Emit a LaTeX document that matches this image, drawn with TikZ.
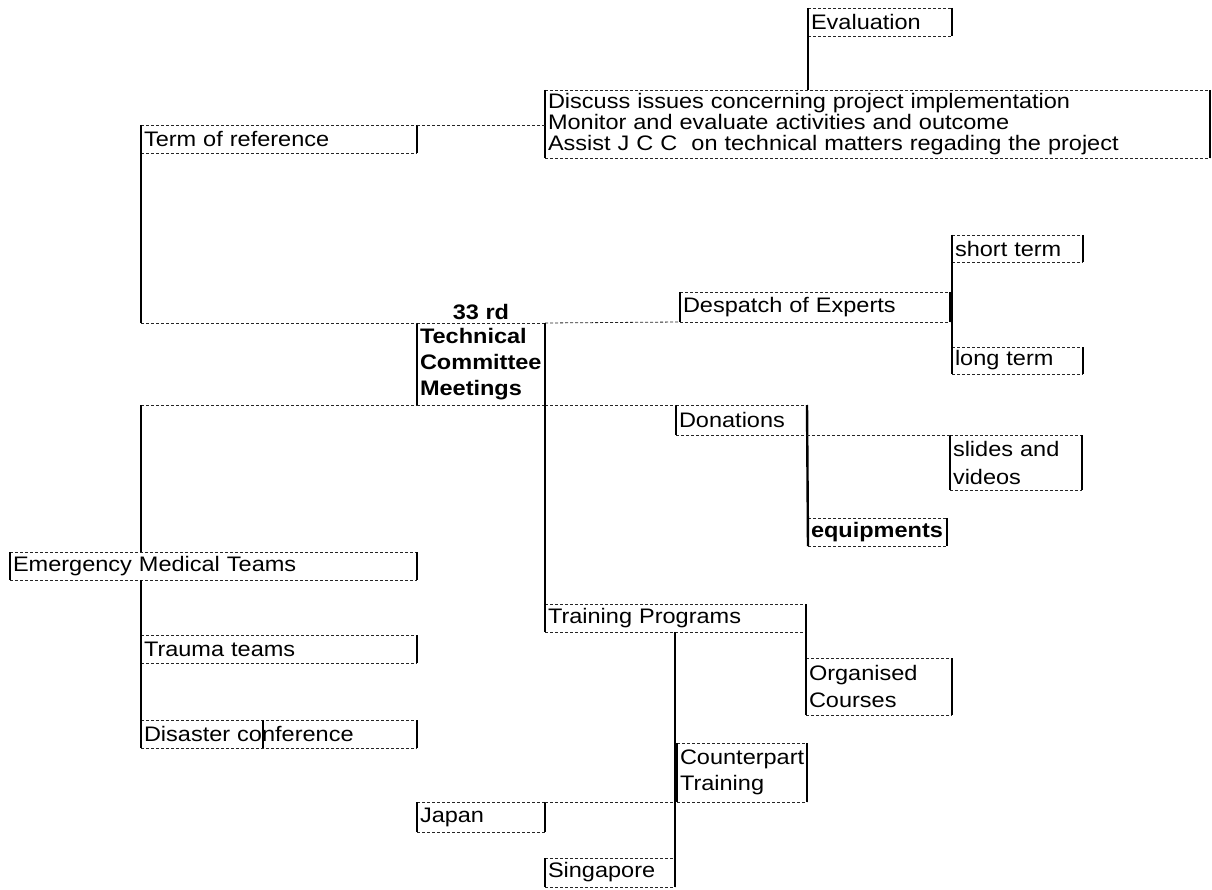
\documentclass[tikz,border=0pt]{standalone}
\usepackage{fontspec}
\setmainfont[FakeStretch=1.12]{Liberation Sans}
\usetikzlibrary{positioning}

\tikzset{
  cell/.style={anchor=north west, inner xsep=3pt, inner ysep=0pt, outer sep=0pt,
    align=left, font=\fontsize{21}{21}\selectfont},
  boldcell/.style={cell, font=\fontsize{21}{26}\selectfont\bfseries},
  edgeline/.style={line width=0.8pt, black!85, dash pattern=on 3pt off 2pt},
  sideline/.style={line width=1.3pt, black},
  link/.style={line width=2.4pt, black},
  dashlink/.style={edgeline}
}

\begin{document}
\begin{tikzpicture}[x=1pt, y=-1pt]
  \useasboundingbox (0,0) rectangle (1212,890);

  % top branch
  \node[cell, text width=138pt, minimum height=28pt] (eval) at (808,8) {Evaluation};
  \node[cell, text width=659pt, minimum height=68pt] (tasks) at (545,90)
    {Discuss issues concerning project implementation\\
     Monitor and evaluate activities and outcome\\
     Assist J C C\ \ on technical matters regading the project};
  \node[cell, text width=270pt, minimum height=28pt] (terms) at (141,125) {Term of reference};

  % centre
  \node[boldcell, text width=122pt, minimum height=82pt] (tcm) at (417,323)
    {Technical\\Committee\\Meetings};
  \node[font=\fontsize{21}{21}\selectfont\bfseries, inner sep=2pt, above=1pt of tcm] (rd) {33 rd};

  % experts
  \node[cell, text width=264pt, minimum height=30pt] (experts) at (680,292) {Despatch of Experts};
  \node[cell, text width=125pt, minimum height=27pt] (short) at (952,235) {short term};
  \node[cell, text width=125pt, minimum height=27pt] (long) at (952,347) {long term};

  % donations
  \node[cell, text width=125pt, minimum height=30pt] (donations) at (676,405) {Donations};
  \node[cell, text width=126pt, minimum height=55pt, font=\fontsize{21}{28}\selectfont] (slides) at (950,435) {slides and\\videos};
  \node[boldcell, text width=133pt, minimum height=28pt] (equip) at (808,518) {equipments};

  % emergency teams
  \node[cell, text width=401pt, minimum height=28pt] (emt) at (10,552) {Emergency Medical Teams};
  \node[cell, text width=270pt, minimum height=28pt] (trauma) at (141,635) {Trauma teams};
  \node[cell, text width=270pt, minimum height=28pt] (disaster) at (141,720) {Disaster conference};

  % training
  \node[cell, text width=255pt, minimum height=28pt] (training) at (545,604) {Training Programs};
  \node[cell, text width=140pt, minimum height=57pt, font=\fontsize{21}{27}\selectfont] (courses) at (806,658) {Organised\\Courses};
  \node[cell, text width=124pt, minimum height=59pt, font=\fontsize{21}{26}\selectfont] (counterpart) at (677,743) {Counterpart\\Training};
  \node[cell, text width=122pt, minimum height=30pt] (japan) at (417,802) {Japan};
  \node[cell, text width=124pt, minimum height=29pt] (singapore) at (545,858) {Singapore};

  % cell borders
  \foreach \n in {eval,tasks,terms,tcm,experts,short,long,donations,slides,equip,
                  emt,trauma,disaster,training,courses,counterpart,japan,singapore}{
    \draw[edgeline] (\n.north west) -- (\n.north east) (\n.south west) -- (\n.south east);
    \draw[sideline] (\n.north west) -- (\n.south west) (\n.north east) -- (\n.south east);
  }
  \draw[sideline] ([xshift=122pt]disaster.north west) -- ([xshift=122pt]disaster.south west);

  % connectors
  \draw[link] (eval.south west) -- (eval.south west |- tasks.north);
  \draw[dashlink] (terms.north east) -- (terms.north east -| tasks.west);
  \draw[link] (terms.south west) -- (terms.south west |- tcm.north);
  \draw[dashlink] (terms.west |- tcm.north) -- (tcm.north west);
  \draw[dashlink] (tcm.north east) -- (experts.south west);
  \draw[link] (short.north west) -- (long.south west);
  \draw[dashlink] (terms.west |- tcm.south) -- (tcm.south west);
  \draw[link] (terms.west |- tcm.south) -- (terms.west |- emt.north);
  \draw[link] (terms.west |- emt.south) -- (disaster.south west);
  \draw[dashlink] (tcm.south east) -- (donations.north west);
  \draw[link] (tcm.north east) -- (training.north west);
  \draw[link] (donations.north east) -- (equip.south west);
  \draw[dashlink] (donations.south east) -- (slides.north west);
  \draw[link] (training.north east) -- (courses.south west);
  \draw[link] (singapore.east |- training.south) -- (singapore.south east);
  \draw[dashlink] (japan.north east) -- (singapore.east |- japan.north);
\end{tikzpicture}
\end{document}
